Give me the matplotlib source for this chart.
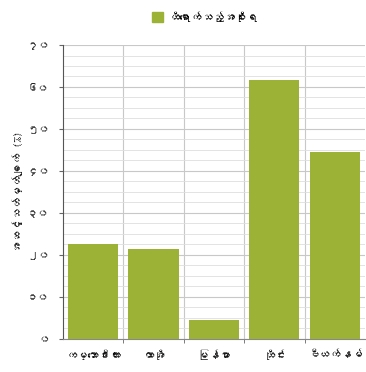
import matplotlib
matplotlib.use("Agg")
import matplotlib.pyplot as plt
from matplotlib import font_manager
from matplotlib.ft2font import FT2Font
from matplotlib.ticker import MultipleLocator, FixedLocator
from matplotlib.patches import Patch

categories = ["ကမ္ဘောဒီးယား", "လာအို", "မြန်မာ", "ထိုင်း", "ဗီယက်နမ်"]
values = [22.6, 21.4, 4.5, 61.7, 44.6]
ytick_vals = [0, 10, 20, 30, 40, 50, 60, 70]
ytick_labels = ["၀", "၁၀", "၂၀", "၃၀", "၄၀", "၅၀", "၆၀", "၇၀"]
series_name = "ထိရောက်သည့်အစိုးရ"
ylabel = "အဆင့်သတ်မှတ်ချက် (%)"

# find a font that covers Myanmar script
my_font = None
for f in font_manager.fontManager.ttflist:
    try:
        cm = FT2Font(f.fname).get_charmap()
        if 0x1000 in cm and 0x1039 in cm:
            my_font = f.name
            break
    except Exception:
        pass
fams = ([my_font] if my_font else []) + ["DejaVu Sans"]
plt.rcParams['font.family'] = fams

green = "#9bb236"
fig = plt.figure(figsize=(3.66, 3.72), dpi=100)
ax = fig.add_axes([0.172, 0.089, 0.825, 0.79])
x = list(range(len(categories)))
ax.bar(x, values, width=0.83, color=green, zorder=3)
ax.set_xlim(-0.5, len(categories) - 0.5)
ax.set_ylim(0, 70)
ax.set_yticks(ytick_vals)
ax.set_yticklabels(ytick_labels, fontsize=8, color="#222222")
ax.yaxis.set_minor_locator(MultipleLocator(2.5))
ax.set_xticks(x)
ax.set_xticklabels(categories, fontsize=8, color="#111111")
ax.tick_params(axis='x', length=0, pad=7)
ax.xaxis.set_minor_locator(FixedLocator([i + 0.5 for i in x[:-1]]))
ax.tick_params(axis='x', which='minor', length=3, color="#666666")
ax.tick_params(axis='y', which='major', length=3, color="#666666", pad=7)
ax.tick_params(axis='y', which='minor', length=0)
ax.grid(axis='y', which='major', color="#c8c8c8", lw=0.8, zorder=0)
ax.grid(axis='y', which='minor', color="#dedede", lw=0.6, zorder=0)
ax.grid(axis='x', which='minor', color="#c8c8c8", lw=0.8, zorder=0)
for s in ["top", "right"]:
    ax.spines[s].set_visible(False)
ax.spines["left"].set_color("#555555")
ax.spines["bottom"].set_color("#888888")
ax.set_ylabel(ylabel, fontsize=8, color="#111111", labelpad=3, fontweight="bold")
fig.legend(handles=[Patch(color=green, label=series_name)], loc="center",
           bbox_to_anchor=(0.56, 0.955), frameon=False, fontsize=8,
           handlelength=1.0, handleheight=1.0, handletextpad=0.5)
fig.savefig("out.png", dpi=100)
